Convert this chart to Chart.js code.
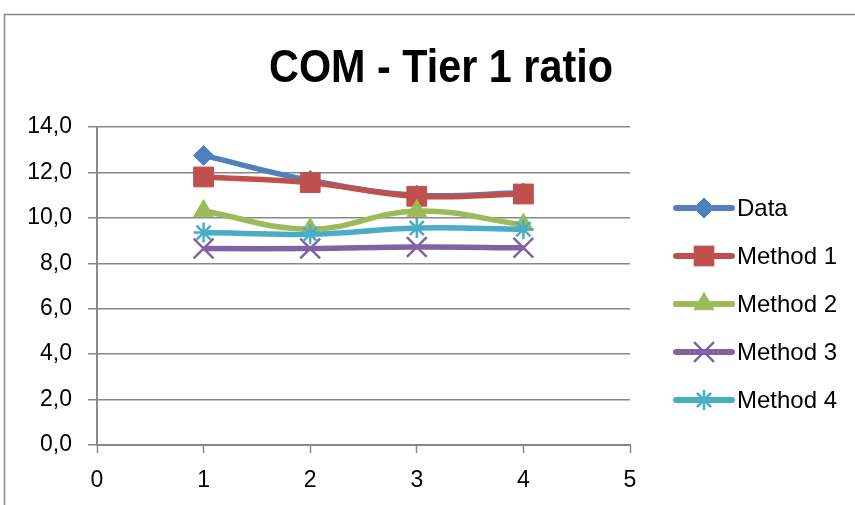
<!DOCTYPE html>
<html>
<head>
<meta charset="utf-8">
<script src="https://cdn.jsdelivr.net/npm/chart.js@4"></script>
<style>
    html, body { margin: 0; padding: 0; background: #fff; }
    canvas { display: block; }
</style>
</head>
<body>
<canvas id="chart" width="855" height="505"></canvas>
<script>
    "use strict";

    // values
    var xValues = [1, 2, 3, 4];
    var dataValues = [12.75, 11.65, 11.0, 11.1];
    var method1Values = [11.8, 11.55, 10.95, 11.05];
    var method2Values = [10.3, 9.5, 10.3, 9.7];
    var method3Values = [8.65, 8.65, 8.72, 8.68];
    var method4Values = [9.35, 9.28, 9.55, 9.5];
    var seriesNames = ["Data", "Method 1", "Method 2", "Method 3", "Method 4"];
    var xTicks = [0, 1, 2, 3, 4, 5];
    var yTicks = [0, 2, 4, 6, 8, 10, 12, 14];
    var chartTitle = "COM - Tier 1 ratio";

    var COLORS = ["#4F81BD", "#C0504D", "#9BBB59", "#8064A2", "#4BACC6"];
    var POINT_STYLES = ["rectRot", "rect", "triangle", "crossRot", "star"];
    var POINT_RADII = [10, 14, 11.5, 14, 10];
    var POINT_BORDERS = [1, 1, 1, 2.5, 2.5];
    var FONT = "'Liberation Sans', Arial, sans-serif";

    function toPoints(values) {
        return values.map(function (v, i) {
            return {x: xValues[i], y: v};
        });
    }

    var allValues = [dataValues, method1Values, method2Values, method3Values, method4Values];

    var datasets = allValues.map(function (values, index) {
        return {
            label: seriesNames[index],
            data: toPoints(values),
            borderColor: COLORS[index],
            backgroundColor: COLORS[index],
            borderWidth: 5.5,
            tension: 0.4,
            pointStyle: POINT_STYLES[index],
            pointRadius: POINT_RADII[index],
            pointHoverRadius: POINT_RADII[index],
            pointBorderWidth: POINT_BORDERS[index],
            pointBackgroundColor: COLORS[index],
            pointBorderColor: COLORS[index],
            // later series on top, as in the original
            order: allValues.length - index,
        };
    });

    // outer frame of the chart object + title
    var framePlugin = {
        id: 'frame',
        beforeDraw: function (chart) {
            var ctx = chart.ctx;
            ctx.save();
            ctx.strokeStyle = '#888';
            ctx.lineWidth = 1.5;
            ctx.beginPath();
            ctx.moveTo(4.5, 600);
            ctx.lineTo(4.5, 14.5);
            ctx.lineTo(900, 14.5);
            ctx.stroke();

            // title, slightly condensed like the original font
            ctx.translate(441, 82);
            ctx.scale(0.88, 1);
            ctx.fillStyle = '#000';
            ctx.font = 'bold 47px ' + FONT;
            ctx.textAlign = 'center';
            ctx.textBaseline = 'alphabetic';
            ctx.fillText(chartTitle, 0, 0);
            ctx.restore();
        },
    };

    // legend drawn as line + marker, like the spreadsheet legend
    var legendPlugin = {
        id: 'lineLegend',
        afterDraw: function (chart) {
            var ctx = chart.ctx;
            var x0 = 676, x1 = 732, top = 208, step = 48;
            ctx.save();
            chart.data.datasets.forEach(function (ds, i) {
                var y = top + i * step;
                ctx.strokeStyle = ds.borderColor;
                ctx.lineWidth = 6;
                ctx.lineCap = 'round';
                ctx.beginPath();
                ctx.moveTo(x0, y);
                ctx.lineTo(x1, y);
                ctx.stroke();
                ctx.lineCap = 'butt';
                ctx.fillStyle = ds.pointBackgroundColor;
                ctx.strokeStyle = ds.pointBorderColor;
                ctx.lineWidth = ds.pointBorderWidth;
                Chart.helpers.drawPoint(ctx, {
                    pointStyle: ds.pointStyle,
                    radius: ds.pointRadius,
                    rotation: 0,
                    borderWidth: ds.pointBorderWidth,
                }, (x0 + x1) / 2, y);
                ctx.fillStyle = '#000';
                ctx.font = '24px ' + FONT;
                ctx.textBaseline = 'middle';
                ctx.textAlign = 'left';
                ctx.fillText(ds.label, x1 + 5, y + 1);
            });
            ctx.restore();
        },
    };

    var ctx = document.getElementById('chart');
    var chart = new Chart(ctx, {
        type: 'line',
        data: {datasets: datasets},
        plugins: [framePlugin, legendPlugin],
        options: {
            responsive: false,
            animation: false,
            layout: {
                padding: {left: 0, right: 225, top: 127, bottom: 0},
            },
            plugins: {
                legend: {display: false},
                tooltip: {enabled: false},
                title: {display: false},
            },
            scales: {
                x: {
                    type: 'linear',
                    min: xTicks[0],
                    max: xTicks[xTicks.length - 1],
                    afterBuildTicks: function (scale) {
                        scale.ticks = xTicks.map(function (v) { return {value: v}; });
                    },
                    afterFit: function (scale) {
                        scale.height = 60;
                    },
                    grid: {
                        drawOnChartArea: false,
                        drawTicks: true,
                        tickLength: 8,
                        tickWidth: 1.5,
                        tickColor: '#888',
                    },
                    border: {display: true, color: '#888', width: 2},
                    ticks: {
                        color: '#000',
                        padding: 14,
                        maxRotation: 0,
                        font: {family: FONT, size: 23},
                    },
                },
                y: {
                    min: yTicks[0],
                    max: yTicks[yTicks.length - 1],
                    afterBuildTicks: function (scale) {
                        scale.ticks = yTicks.map(function (v) { return {value: v}; });
                    },
                    afterFit: function (scale) {
                        scale.width = 97;
                    },
                    grid: {
                        color: '#888',
                        lineWidth: 1.5,
                        drawTicks: true,
                        tickLength: 9,
                    },
                    border: {display: true, color: '#888', width: 2},
                    ticks: {
                        color: '#000',
                        padding: 16,
                        font: {family: FONT, size: 23},
                        callback: function (v) {
                            return v.toFixed(1).replace('.', ',');
                        },
                    },
                },
            },
        },
    });
</script>
</body>
</html>
